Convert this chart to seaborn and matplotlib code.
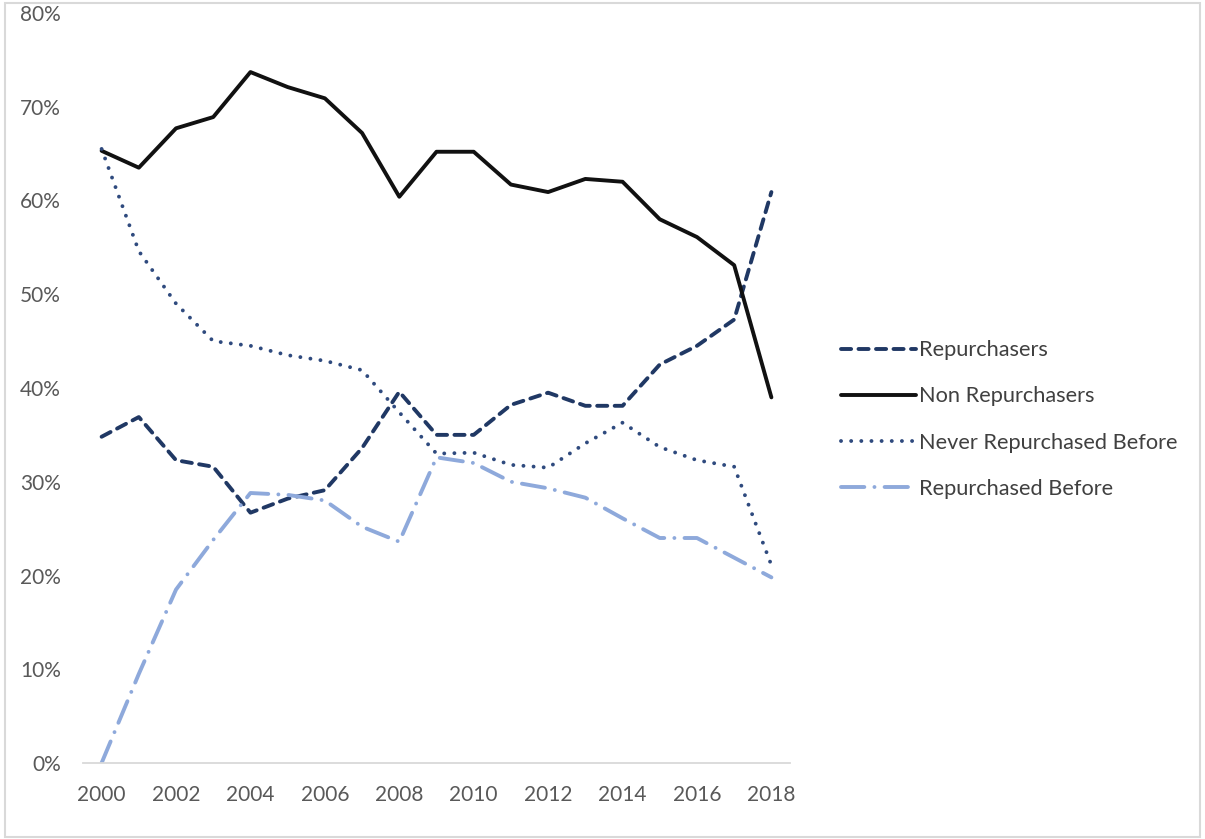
import numpy as np
import pandas as pd
import matplotlib
matplotlib.use("Agg")
import matplotlib.pyplot as plt
from matplotlib.ticker import FuncFormatter
import seaborn as sns

years = list(range(2000, 2019))
repurchasers = [34.8, 36.9, 32.3, 31.6, 26.7, 28.2, 29.1, 33.6, 39.6, 35.0, 35.0,
                38.2, 39.5, 38.1, 38.1, 42.5, 44.5, 47.3, 60.9]
non_repurchasers = [65.3, 63.5, 67.7, 68.9, 73.7, 72.1, 70.9, 67.2, 60.4, 65.2, 65.2,
                    61.7, 60.9, 62.3, 62.0, 58.0, 56.1, 53.1, 39.0]
never_repurchased = [65.5, 54.6, 49.0, 45.0, 44.5, 43.5, 42.9, 41.9, 37.4, 33.0, 33.1,
                     31.8, 31.5, 34.1, 36.3, 33.7, 32.3, 31.6, 21.1]
repurchased_before = [0.0, 9.5, 18.5, 23.8, 28.8, 28.6, 28.0, 25.2, 23.6, 32.6, 32.0,
                      30.0, 29.3, 28.3, 26.1, 24.0, 24.0, 21.9, 19.8]

series_names = ["Repurchasers", "Non Repurchasers", "Never Repurchased Before", "Repurchased Before"]
series_vals = [repurchasers, non_repurchasers, never_repurchased, repurchased_before]

df = pd.concat([pd.DataFrame({"Year": years, "Value": np.array(v) / 100.0, "Series": n})
                for n, v in zip(series_names, series_vals)], ignore_index=True)

palette = {"Repurchasers": "#203864", "Non Repurchasers": "#111111",
           "Never Repurchased Before": "#2F4A7E", "Repurchased Before": "#8EA9DB"}
dashes = {"Repurchasers": (2.6, 1.9), "Non Repurchasers": "",
          "Never Repurchased Before": (0.01, 2.6), "Repurchased Before": (6.0, 2.6, 0.01, 2.6)}

sns.set_theme(style="white")
plt.rcParams['font.family'] = ['Lato', 'DejaVu Sans']

fig = plt.figure(figsize=(12.05, 8.39), dpi=100)
ax = fig.add_axes([83 / 1205, 1 - 763 / 839, 707 / 1205, 750 / 839])

sns.lineplot(data=df, x="Year", y="Value", hue="Series", style="Series",
             palette=palette, dashes=dashes, linewidth=2.8, ax=ax, legend=True)

for ln in ax.lines:
    ln.set_dash_capstyle("round")
    ln.set_solid_capstyle("round")

ax.set_xlim(1999.5, 2018.5)
ax.set_ylim(0, 0.8)
ax.set_xticks(list(range(2000, 2019, 2)))
ax.set_yticks(np.arange(0, 0.81, 0.1))
ax.yaxis.set_major_formatter(FuncFormatter(lambda v, p: f"{round(v*100):d}%"))
ax.set_xlabel("")
ax.set_ylabel("")
ax.grid(False)
for s in ["left", "right", "top"]:
    ax.spines[s].set_visible(False)
ax.spines["bottom"].set_color("#D9D9D9")
ax.spines["bottom"].set_linewidth(1.3)
ax.tick_params(axis="both", length=0, labelsize=15, labelcolor="#595959")
ax.tick_params(axis="y", pad=16)
ax.tick_params(axis="x", pad=16)

handles, labels = ax.get_legend_handles_labels()
leg = ax.legend(handles, labels, loc="center left", bbox_to_anchor=(0.682, 0.50),
                bbox_transform=fig.transFigure, frameon=False, fontsize=15.7,
                handlelength=3.4, handletextpad=0.15, labelspacing=1.2)
for t in leg.get_texts():
    t.set_color("#404040")
for h in leg.get_lines():
    h.set_dash_capstyle("round")
    h.set_linewidth(2.8)

fig.patches.append(plt.Rectangle((0.004, 0.002), 0.992, 0.995, transform=fig.transFigure,
                                 fill=False, edgecolor="#D9D9D9", linewidth=1.5))

fig.savefig("out.png", dpi=100)
